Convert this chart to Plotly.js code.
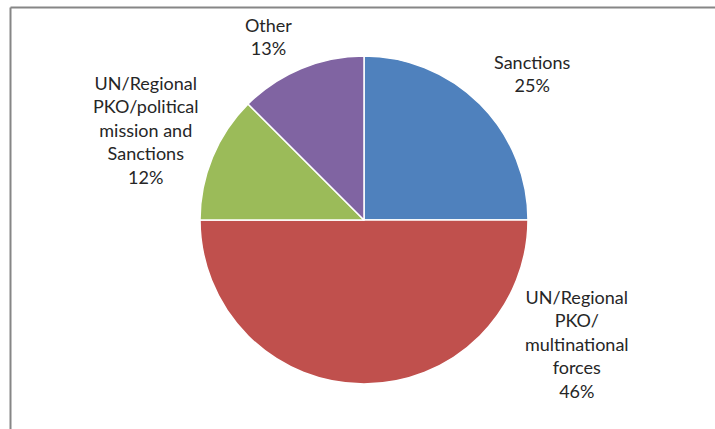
<!DOCTYPE html>
<html>
<head>
<meta charset="utf-8">
<script src="https://cdn.plot.ly/plotly-3.0.1.min.js"></script>
<style>html,body{margin:0;padding:0;background:#fff;}#chart{width:715px;height:429px;}</style>
</head>
<body>
<div id="chart"></div>
<script>
// Slice names (as in the chart)
const categories = [
  "Sanctions",
  "UN/Regional PKO/multinational forces",
  "UN/Regional PKO/political mission and Sanctions",
  "Other"
];
// Slice sizes as drawn (angles)
const sliceValues = [25, 50, 12.5, 12.5];
// Label texts as printed in the chart
const labelTexts = [
  "Sanctions<br>25%",
  "UN/Regional<br>PKO/<br>multinational<br>forces<br>46%",
  "UN/Regional<br>PKO/political<br>mission and<br>Sanctions<br>12%",
  "Other<br>13%"
];
const sliceColors = ["#4F81BD", "#C0504D", "#9BBB59", "#8064A2"];

const W = 715, H = 429;
// label centres in pixels
const labelPos = [[532, 74], [577, 344], [146, 130], [268, 36]];

const annotations = labelTexts.map((t, i) => ({
  text: t, xref: "paper", yref: "paper",
  x: labelPos[i][0] / W, y: 1 - labelPos[i][1] / H,
  xanchor: "center", yanchor: "middle", showarrow: false, align: "center",
  font: {family: "Lato, 'Liberation Sans', sans-serif", size: 18, color: "#262626"}
}));

const data = [{
  type: "pie",
  labels: categories,
  values: sliceValues,
  sort: false,
  direction: "clockwise",
  rotation: 0,
  textinfo: "none",
  hoverinfo: "label+percent",
  marker: {colors: sliceColors, line: {color: "#ffffff", width: 1.5}},
  domain: {x: [200 / W, 528 / W], y: [1 - 384 / H, 1 - 56 / H]},
  showlegend: false
}];

const layout = {
  width: W, height: H,
  margin: {l: 0, r: 0, t: 0, b: 0},
  paper_bgcolor: "#ffffff",
  showlegend: false,
  annotations: annotations,
  shapes: [
    {type: "line", xref: "paper", yref: "paper", x0: 10.5 / W, x1: 1.05, y0: 1 - 7.5 / H, y1: 1 - 7.5 / H, line: {color: "#868686", width: 2}},
    {type: "line", xref: "paper", yref: "paper", x0: 10.5 / W, x1: 10.5 / W, y0: 1 - 7.5 / H, y1: -0.05, line: {color: "#868686", width: 2}}
  ]
};

Plotly.newPlot("chart", data, layout, {displayModeBar: false, staticPlot: true});
</script>
</body>
</html>
